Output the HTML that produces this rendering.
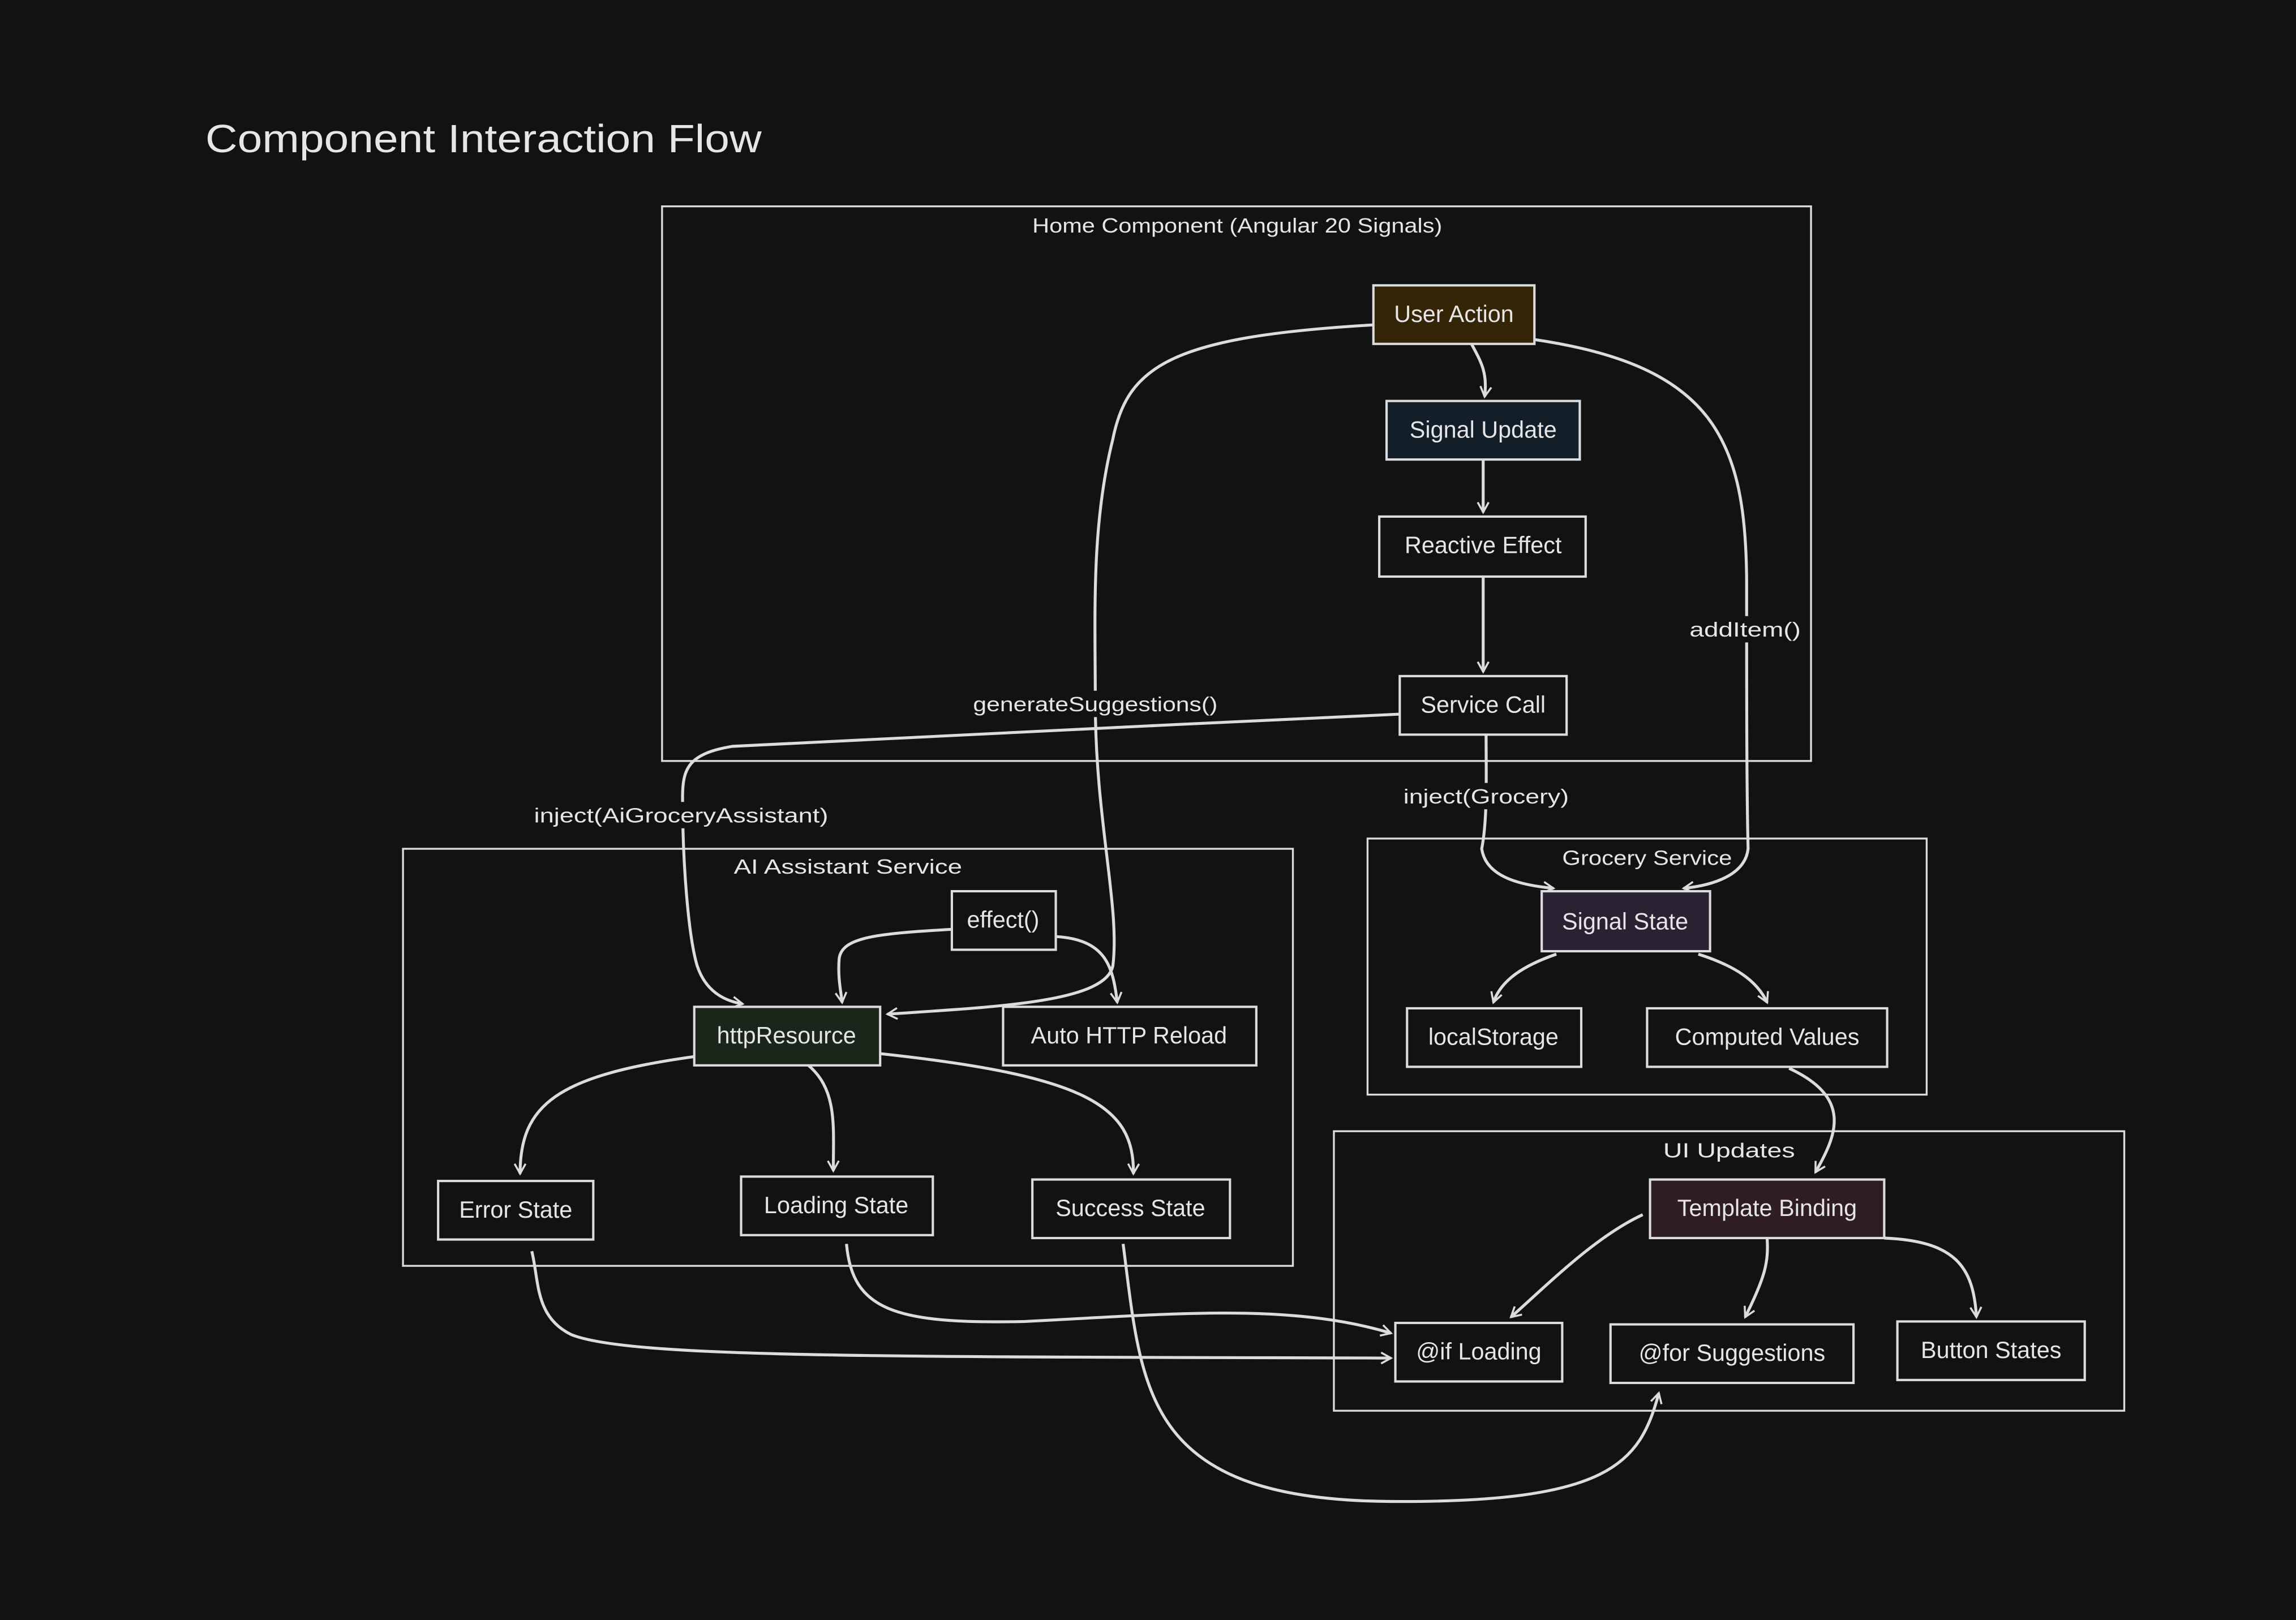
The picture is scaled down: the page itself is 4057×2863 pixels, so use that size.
<!DOCTYPE html>
<html><head><meta charset="utf-8"><style>
html,body{margin:0;padding:0;background:#121212;width:4057px;height:2863px;overflow:hidden}
svg{display:block}
text{font-family:"Liberation Sans",sans-serif;fill:#e6e6e6}
.n{stroke:#dcdcdc;stroke-width:1.6}
.c{fill:none;stroke:#dcdcdc;stroke-width:1.3}
.e{fill:none;stroke:#dcdcdc;stroke-width:2}
</style></head><body>
<svg width="4057" height="2863" viewBox="0 0 1568 1107" xmlns="http://www.w3.org/2000/svg">
<defs><marker id="a" viewBox="0 0 12 12" refX="10" refY="6" markerWidth="9" markerHeight="9" markerUnits="userSpaceOnUse" orient="auto"><path d="M1,1 L10,6 L1,11" fill="none" stroke="#dcdcdc" stroke-width="1.8"/></marker></defs>
<rect width="1568" height="1107" fill="#121212"/>
<text x="140" y="104" font-size="27" textLength="380" lengthAdjust="spacingAndGlyphs">Component Interaction Flow</text>

<rect class="c" x="452" y="141" width="785" height="379" fill="none"/>
<text x="845" y="159" font-size="14" text-anchor="middle" textLength="280" lengthAdjust="spacingAndGlyphs">Home Component (Angular 20 Signals)</text>
<rect class="c" x="275" y="580" width="608" height="285"/>
<text x="579" y="597" font-size="14" text-anchor="middle" textLength="156" lengthAdjust="spacingAndGlyphs">AI Assistant Service</text>
<rect class="c" x="934" y="573" width="382" height="175"/>
<text x="1125" y="591" font-size="14" text-anchor="middle" textLength="116" lengthAdjust="spacingAndGlyphs">Grocery Service</text>
<rect class="c" x="911" y="773" width="540" height="191"/>
<text x="1181" y="791" font-size="14" text-anchor="middle" textLength="90" lengthAdjust="spacingAndGlyphs">UI Updates</text>

<g class="e">
<path d="M1005,235 C1012,248 1016,255 1014,271" marker-end="url(#a)"/>
<path d="M1013,314 L1013,350" marker-end="url(#a)"/>
<path d="M1013,394 L1013,459" marker-end="url(#a)"/>
<path d="M938,222 C800,230 770,250 760,300 C745,360 748,420 748,480 C748,560 765,620 760,660 C755,685 680,688 606,693" marker-end="url(#a)"/>
<path d="M956,488 C800,495 600,505 500,510 C470,515 466,525 466,545 C466,590 470,640 476,660 C482,678 495,684 507,686" marker-end="url(#a)"/>
<path d="M650,635 C600,638 575,640 573,655 C572,668 574,676 575,685" marker-end="url(#a)"/>
<path d="M721,640 C755,642 760,660 763,685" marker-end="url(#a)"/>
<path d="M1015,502 C1015,530 1016,560 1012,580 C1015,600 1040,605 1061,607" marker-end="url(#a)"/>
<path d="M1048,232 C1170,250 1193,300 1193,400 C1193,480 1193,540 1194,580 C1192,598 1170,605 1150,607" marker-end="url(#a)"/>
<path d="M1063,652 C1040,660 1025,670 1020,685" marker-end="url(#a)"/>
<path d="M1160,652 C1185,660 1200,670 1207,685" marker-end="url(#a)"/>
<path d="M1222,730 C1265,750 1255,775 1240,801" marker-end="url(#a)"/>
<path d="M474,722 C380,735 355,755 355,802" marker-end="url(#a)"/>
<path d="M552,728 C572,745 569,770 569,800" marker-end="url(#a)"/>
<path d="M601,720 C740,735 775,755 774,802" marker-end="url(#a)"/>
<path d="M1122,830 C1090,845 1060,875 1032,900" marker-end="url(#a)"/>
<path d="M1207,846 C1208,862 1206,872 1192,900" marker-end="url(#a)"/>
<path d="M1287,846 C1335,848 1348,865 1350,900" marker-end="url(#a)"/>
<path d="M363,855 C368,875 365,900 390,912 C430,928 600,927 950,928" marker-end="url(#a)"/>
<path d="M578,850 C582,895 610,905 700,903 C800,898 880,890 950,911" marker-end="url(#a)"/>
<path d="M767,850 C780,950 780,1025 950,1026 C1100,1027 1120,1000 1133,952" marker-end="url(#a)"/>
</g>

<g font-size="14" text-anchor="middle">
<rect x="660" y="472" width="176" height="18" fill="#121212"/>
<text x="748" y="486" textLength="167" lengthAdjust="spacingAndGlyphs">generateSuggestions()</text>
<rect x="360" y="548" width="210" height="18" fill="#121212"/>
<text x="465" y="562" textLength="201" lengthAdjust="spacingAndGlyphs">inject(AiGroceryAssistant)</text>
<rect x="954" y="535" width="122" height="18" fill="#121212"/>
<text x="1015" y="549" textLength="113" lengthAdjust="spacingAndGlyphs">inject(Grocery)</text>
<rect x="1150" y="421" width="84" height="18" fill="#121212"/>
<text x="1192" y="435" textLength="76" lengthAdjust="spacingAndGlyphs">addItem()</text>
</g>

<g font-size="16" text-anchor="middle">
<rect class="n" x="938" y="195" width="110" height="40" fill="#332506"/><text x="993" y="220">User Action</text>
<rect class="n" x="947" y="274" width="132" height="40" fill="#121f28"/><text x="1013" y="299">Signal Update</text>
<rect class="n" x="942" y="353" width="141" height="41" fill="#121212"/><text x="1013" y="378">Reactive Effect</text>
<rect class="n" x="956" y="462" width="114" height="40" fill="#121212"/><text x="1013" y="487">Service Call</text>
<rect class="n" x="650" y="609" width="71" height="40" fill="#121212"/><text x="685" y="634">effect()</text>
<rect class="n" x="474" y="688" width="127" height="40" fill="#1a261a"/><text x="537" y="713">httpResource</text>
<rect class="n" x="685" y="688" width="173" height="40" fill="#121212"/><text x="771" y="713">Auto HTTP Reload</text>
<rect class="n" x="299" y="807" width="106" height="40" fill="#121212"/><text x="352" y="832">Error State</text>
<rect class="n" x="506" y="804" width="131" height="40" fill="#121212"/><text x="571" y="829">Loading State</text>
<rect class="n" x="705" y="806" width="135" height="40" fill="#121212"/><text x="772" y="831">Success State</text>
<rect class="n" x="1053" y="609" width="115" height="41" fill="#2a2233"/><text x="1110" y="635">Signal State</text>
<rect class="n" x="961" y="689" width="119" height="40" fill="#121212"/><text x="1020" y="714">localStorage</text>
<rect class="n" x="1125" y="689" width="164" height="40" fill="#121212"/><text x="1207" y="714">Computed Values</text>
<rect class="n" x="1127" y="806" width="160" height="40" fill="#2e1e24"/><text x="1207" y="831">Template Binding</text>
<rect class="n" x="953" y="904" width="114" height="40" fill="#121212"/><text x="1010" y="929">@if Loading</text>
<rect class="n" x="1100" y="905" width="166" height="40" fill="#121212"/><text x="1183" y="930">@for Suggestions</text>
<rect class="n" x="1296" y="903" width="128" height="40" fill="#121212"/><text x="1360" y="928">Button States</text>
</g>
</svg>
</body></html>
